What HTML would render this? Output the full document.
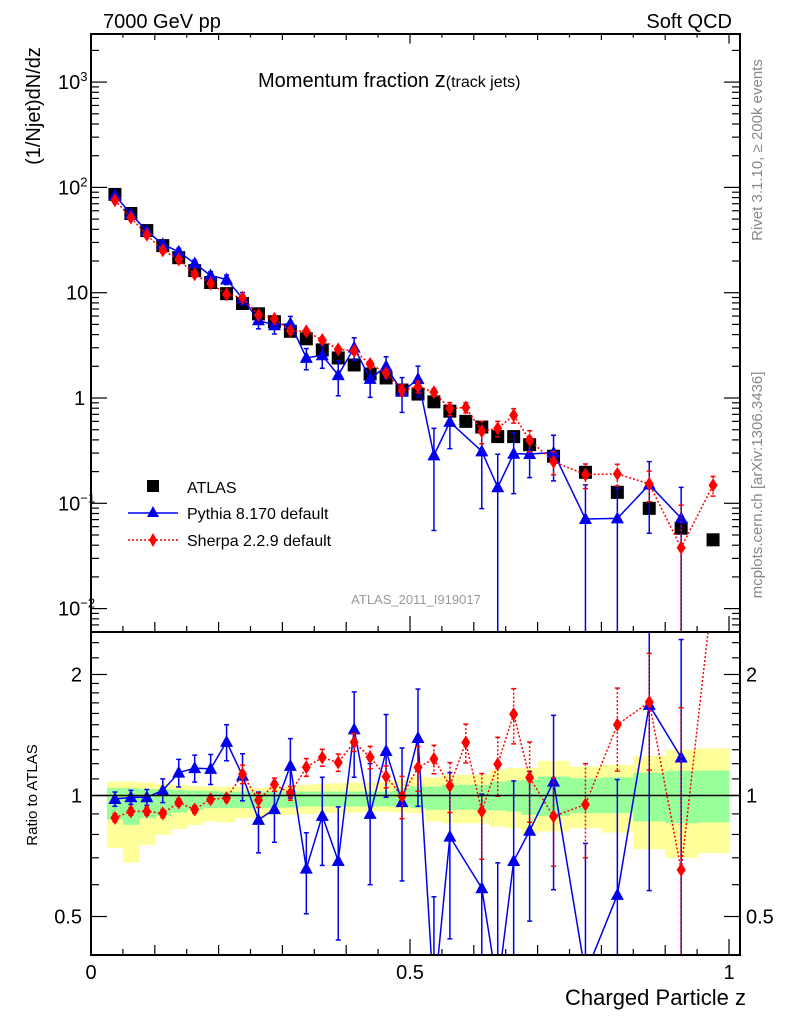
<!DOCTYPE html>
<html><head><meta charset="utf-8">
<style>
html,body{margin:0;padding:0;background:#fff;width:786px;height:1024px;overflow:hidden;}
svg{display:block;font-family:"Liberation Sans",Arial,sans-serif;}
</style></head>
<body>
<svg id="chart" width="786" height="1024" viewBox="0 0 786 1024" xmlns="http://www.w3.org/2000/svg">
<defs>
<clipPath id="clipMain"><rect x="91" y="34" width="649" height="598"/></clipPath>
<clipPath id="clipRatio"><rect x="91" y="632" width="649" height="323"/></clipPath>
</defs>
<g id="bands" clip-path="url(#clipRatio)"></g>
<g id="axes"></g>
<g id="mainSeries" clip-path="url(#clipMain)"></g>
<g id="ratioSeries" clip-path="url(#clipRatio)"></g>
<rect x="91" y="34" width="649" height="598" fill="none" stroke="#000" stroke-width="2"/>
<rect x="91" y="632" width="649" height="323" fill="none" stroke="#000" stroke-width="2"/>
<line x1="91" y1="795.5" x2="740" y2="795.5" stroke="#000" stroke-width="1.5"/>
<text x="103" y="28" font-size="20">7000 GeV pp</text>
<text x="732" y="28" font-size="20" text-anchor="end">Soft QCD</text>
<text x="258" y="87" font-size="20">Momentum fraction <tspan font-size="22">z</tspan><tspan font-size="16">(track jets)</tspan></text>
<text transform="translate(40,106) rotate(-90)" font-size="20" text-anchor="middle">(1/Njet)dN/dz</text>
<text transform="translate(37,795) rotate(-90)" font-size="15" text-anchor="middle">Ratio to ATLAS</text>
<text x="746" y="1005" font-size="22" text-anchor="end">Charged Particle z</text>
<text transform="translate(762,150) rotate(-90)" font-size="15" fill="#888" text-anchor="middle">Rivet 3.1.10, ≥ 200k events</text>
<text transform="translate(762,485) rotate(-90)" font-size="15" fill="#888" text-anchor="middle">mcplots.cern.ch [arXiv:1306.3436]</text>
<text x="416" y="604" font-size="13" fill="#999" text-anchor="middle">ATLAS_2011_I919017</text>
<g id="legend">
<rect x="147" y="480" width="12" height="12" fill="#000"/>
<text x="187" y="493" font-size="16">ATLAS</text>
<line x1="128" y1="513" x2="178" y2="513" stroke="#0000ee" stroke-width="1.5"/>
<polygon points="153,506 159,517 147,517" fill="#0000ee"/>
<text x="187" y="519" font-size="16">Pythia 8.170 default</text>
<line x1="128" y1="540" x2="178" y2="540" stroke="#ff0000" stroke-width="1.5" stroke-dasharray="2,2"/>
<polygon points="153,533 157,540 153,547 149,540" fill="#ff0000"/>
<text x="187" y="546" font-size="16">Sherpa 2.2.9 default</text>
</g>
</svg>
<script>
const zCenters = [0.0375,0.0625,0.0875,0.1125,0.1375,0.1625,0.1875,0.2125,0.2375,0.2625,0.2875,0.3125,0.3375,0.3625,0.3875,0.4125,0.4375,0.4625,0.4875,0.5125,0.5375,0.5625,0.5875,0.6125,0.6375,0.6625,0.6875,0.725,0.775,0.825,0.875,0.925,0.975];
const binLo = [0.025,0.05,0.075,0.1,0.125,0.15,0.175,0.2,0.225,0.25,0.275,0.3,0.325,0.35,0.375,0.4,0.425,0.45,0.475,0.5,0.525,0.55,0.575,0.6,0.625,0.65,0.675,0.7,0.75,0.8,0.85,0.9,0.95];
const binHi = [0.05,0.075,0.1,0.125,0.15,0.175,0.2,0.225,0.25,0.275,0.3,0.325,0.35,0.375,0.4,0.425,0.45,0.475,0.5,0.525,0.55,0.575,0.6,0.625,0.65,0.675,0.7,0.75,0.8,0.85,0.9,0.95,1.0];
const atlasValues = [85.8,56.5,38.9,28.0,21.5,16.2,12.5,9.8,7.9,6.3,5.3,4.3,3.65,2.86,2.40,2.06,1.69,1.55,1.19,1.09,0.92,0.75,0.60,0.53,0.43,0.43,0.36,0.28,0.197,0.127,0.0895,0.058,0.045];
const pythiaRatio = [0.98,0.99,0.99,1.03,1.14,1.17,1.165,1.36,1.12,0.87,0.925,1.185,0.658,0.89,0.687,1.46,0.90,1.29,0.963,1.39,0.31,0.79,null,0.588,0.33,0.687,0.817,1.083,0.36,0.566,1.68,1.243,null];
const pythiaRatioErr = [0.04,0.04,0.045,0.07,0.09,0.09,0.10,0.14,0.15,0.15,0.16,0.2,0.15,0.22,0.25,0.35,0.30,0.30,0.35,0.45,0.25,0.35,null,0.42,0.35,0.4,0.33,0.5,0.4,0.53,1.1,1.2,null];
const sherpaRatio = [0.88,0.913,0.913,0.902,0.961,0.923,0.979,0.985,1.13,0.974,1.065,1.013,1.176,1.243,1.208,1.357,1.245,1.115,0.996,1.174,1.233,1.057,1.355,0.914,1.196,1.594,1.108,0.887,0.95,1.5,1.707,0.653,3.3];
const sherpaRatioErr = [0.02,0.02,0.02,0.02,0.02,0.02,0.02,0.02,0.06,0.04,0.04,0.04,0.06,0.06,0.06,0.07,0.08,0.07,0.12,0.15,0.10,0.15,0.15,0.22,0.2,0.25,0.25,0.22,0.25,0.35,0.55,1.0,0.7];
const yellowHi = [1.083,1.083,1.077,1.069,1.063,1.057,1.053,1.053,1.053,1.043,1.053,1.053,1.063,1.069,1.073,1.077,1.077,1.083,1.094,1.115,1.11,1.126,1.126,1.126,1.159,1.17,1.17,1.22,1.18,1.192,1.255,1.30,1.31];
const yellowLo = [0.740,0.681,0.754,0.798,0.826,0.845,0.862,0.857,0.878,0.878,0.895,0.895,0.900,0.904,0.904,0.907,0.912,0.912,0.907,0.904,0.862,0.853,0.853,0.853,0.837,0.829,0.798,0.814,0.829,0.809,0.735,0.699,0.719];
const greenHi = [1.043,1.043,1.037,1.037,1.033,1.029,1.027,1.023,1.023,1.023,1.023,1.023,1.023,1.023,1.023,1.023,1.023,1.023,1.043,1.053,1.053,1.063,1.063,1.063,1.083,1.09,1.094,1.115,1.104,1.11,1.14,1.152,1.154];
const greenLo = [0.870,0.845,0.878,0.890,0.907,0.921,0.930,0.930,0.930,0.930,0.933,0.933,0.939,0.939,0.939,0.939,0.939,0.939,0.939,0.930,0.921,0.921,0.921,0.918,0.918,0.912,0.895,0.890,0.904,0.904,0.862,0.853,0.857];
const mainTickLabels = ["10<tspan dy='-8' font-size='13'>−2</tspan>","10<tspan dy='-8' font-size='13'>−1</tspan>","1","10","10<tspan dy='-8' font-size='13'>2</tspan>","10<tspan dy='-8' font-size='13'>3</tspan>"];
const mainTickExps = [-2,-1,0,1,2,3];
const ratioTickValues = [0.5,1,2];
const xTickValues = [0,0.5,1];
const xTickLabels = ["0","0.5","1"];

const NS="http://www.w3.org/2000/svg";
const X0=91, XS=638;
const MAIN_TOP=34, MAIN_BOT=632, RAT_TOP=632, RAT_BOT=955;
function xPix(z){return X0+z*XS;}
function yMain(v){return 398-105.3*Math.log10(v);}
function yRatio(r){return 795.5-402*Math.log10(r);}
function clamp(y,a,b){return Math.max(a,Math.min(b,y));}
function mk(tag,attrs,parent){const e=document.createElementNS(NS,tag);for(const k in attrs)e.setAttribute(k,attrs[k]);parent.appendChild(e);return e;}
const axes=document.getElementById('axes');
const bands=document.getElementById('bands');
const mainG=document.getElementById('mainSeries');
const ratioG=document.getElementById('ratioSeries');

for(let i=0;i<binLo.length;i++){
  const y=mk('rect',{x:xPix(binLo[i]),y:yRatio(yellowHi[i]),width:xPix(binHi[i])-xPix(binLo[i])+0.5,height:yRatio(yellowLo[i])-yRatio(yellowHi[i]),fill:'#ffff99'},bands);
  
  
}
for(let i=0;i<binLo.length;i++){
  const g=mk('rect',{x:xPix(binLo[i]),y:yRatio(greenHi[i]),width:xPix(binHi[i])-xPix(binLo[i])+0.5,height:yRatio(greenLo[i])-yRatio(greenHi[i]),fill:'#99ff99'},bands);
  
  
}

for(let e=-3;e<=3;e++){
  for(let m=1;m<=9;m++){
    const v=m*Math.pow(10,e); const y=yMain(v);
    if(y<34||y>632)continue;
    const len=m===1?16:8;
    mk('line',{x1:91,y1:y,x2:91+len,y2:y,stroke:'#000','stroke-width':1.2},axes);
    mk('line',{x1:740,y1:y,x2:740-len,y2:y,stroke:'#000','stroke-width':1.2},axes);
  }
}
mainTickExps.forEach((e,i)=>{
  const t=mk('text',{x:e===0?74:(e===1?66:58),y:yMain(Math.pow(10,e))+7,'font-size':20},axes);
  t.innerHTML=mainTickLabels[i];
  
  
});
const rMinor=[0.4,0.5,0.6,0.7,0.8,0.9,1,1.1,1.2,1.3,1.4,1.5,1.6,1.7,1.8,1.9,2,2.2,2.4];
rMinor.forEach(r=>{
  const y=yRatio(r); const major=ratioTickValues.includes(r); const len=major?16:8;
  mk('line',{x1:91,y1:y,x2:91+len,y2:y,stroke:'#000','stroke-width':1.2},axes);
  mk('line',{x1:740,y1:y,x2:740-len,y2:y,stroke:'#000','stroke-width':1.2},axes);
});
ratioTickValues.forEach(r=>{
  const lbl=String(r);
  const t=mk('text',{x:82,y:yRatio(r)+7,'font-size':20,'text-anchor':'end'},axes);
  t.textContent=lbl;
  
  
  const t2=mk('text',{x:746,y:yRatio(r)+7,'font-size':20},axes);
  t2.textContent=lbl;
  
  
});
for(let k=0;k<=20;k++){
  const z=k*0.05; const x=xPix(z);
  const len=(k%10===0)?16:(k%2===0?10:6);
  mk('line',{x1:x,y1:955,x2:x,y2:955-len,stroke:'#000','stroke-width':1.2},axes);
  mk('line',{x1:x,y1:632,x2:x,y2:632-len,stroke:'#000','stroke-width':1.2},axes);
  mk('line',{x1:x,y1:34,x2:x,y2:34+len*0.6,stroke:'#000','stroke-width':1.2},axes);
}
xTickValues.forEach((z,i)=>{
  const t=mk('text',{x:xPix(z),y:979,'font-size':20,'text-anchor':'middle'},axes);
  t.textContent=xTickLabels[i];
  
  
});

function tri(x,y,g,name){const p=mk('polygon',{points:`${x},${y-7} ${x+6.5},${y+5} ${x-6.5},${y+5}`,fill:'#0000ee'},g);}
function dia(x,y,g,name){const p=mk('polygon',{points:`${x},${y-7} ${x+4.5},${y} ${x},${y+7} ${x-4.5},${y}`,fill:'#ff0000'},g);}
function errBar(x,yT,yB,color,dash,g,top,bot){
  const capT=yT>=top, capB=yB<=bot;
  yT=clamp(yT,top,bot); yB=clamp(yB,top,bot);
  const a={x1:x,y1:yT,x2:x,y2:yB,stroke:color,'stroke-width':1.5};if(dash)a['stroke-dasharray']='2,2';
  mk('line',a,g);
  if(capT)mk('line',{x1:x-2.5,y1:yT,x2:x+2.5,y2:yT,stroke:color,'stroke-width':1.5},g);
  if(capB)mk('line',{x1:x-2.5,y1:yB,x2:x+2.5,y2:yB,stroke:color,'stroke-width':1.5},g);
}
function series(ratio,err,color,dash,marker,name){
  let pts=[],rpts=[];
  ratio.forEach((r,i)=>{
    if(r===null)return;
    const v=atlasValues[i]*r, ev=atlasValues[i]*err[i];
    const x=xPix(zCenters[i]);
    pts.push(x+','+yMain(v)); rpts.push(x+','+yRatio(r));
    errBar(x,yMain(v+ev),v-ev>0?yMain(v-ev):MAIN_BOT+10,color,dash,mainG,MAIN_TOP,MAIN_BOT);
    errBar(x,yRatio(r+err[i]),r-err[i]>0?yRatio(r-err[i]):RAT_BOT+10,color,dash,ratioG,RAT_TOP,RAT_BOT);
  });
  const a={points:pts.join(' '),fill:'none',stroke:color,'stroke-width':1.5};if(dash)a['stroke-dasharray']='2,2';
  const l=mk('polyline',a,mainG);
  
  
  const b=Object.assign({},a);b.points=rpts.join(' ');
  const l2=mk('polyline',b,ratioG);
  
  
  ratio.forEach((r,i)=>{
    if(r===null)return;
    const x=xPix(zCenters[i]);
    marker(x,yMain(atlasValues[i]*r),mainG,name+'-point');
    const yr=yRatio(r);
    if(yr>RAT_TOP-8&&yr<RAT_BOT+8)marker(x,yr,ratioG,name+'-ratio-point');
  });
}
atlasValues.forEach((v,i)=>{
  const s=mk('rect',{x:xPix(zCenters[i])-6.5,y:yMain(v)-6.5,width:13,height:13,fill:'#000'},mainG);
  
  
});
series(pythiaRatio,pythiaRatioErr,'#0000ee',false,tri,'pythia');
series(sherpaRatio,sherpaRatioErr,'#ff0000',true,dia,'sherpa');
</script>
</body></html>
